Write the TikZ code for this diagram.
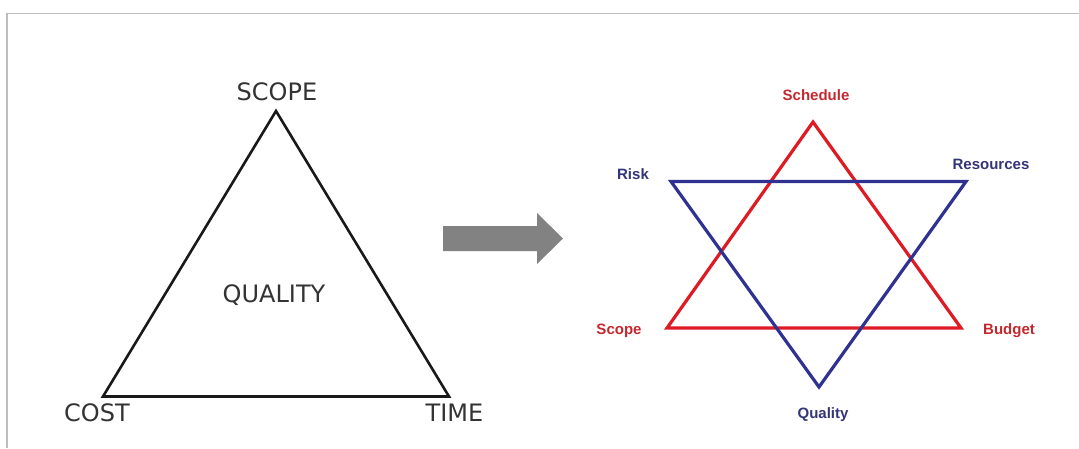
\documentclass[tikz,border=0pt]{standalone}
\usepackage{fontspec}
\usepackage{tikz}
\usetikzlibrary{positioning}
\newfontfamily\trifont{DejaVu Sans}
\newfontfamily\starfont{Liberation Sans}
\definecolor{starred}{RGB}{222,26,34}
\definecolor{starblue}{RGB}{48,50,146}
\definecolor{redtxt}{RGB}{196,40,46}
\definecolor{bluetxt}{RGB}{52,52,120}
\definecolor{framegray}{RGB}{190,190,190}

\begin{document}
\begin{tikzpicture}[x=1pt, y=-1pt,
      tri/.style={draw=black!90, line width=2.6pt, line join=miter},
      tlbl/.style={font=\trifont\fontsize{24}{26}\selectfont, text=black!80, inner sep=0pt},
      redtri/.style={draw=starred, line width=3.2pt, line join=miter},
      bluetri/.style={draw=starblue, line width=3.2pt, line join=miter},
      rlbl/.style={font=\starfont\bfseries\fontsize{15}{17}\selectfont, text=redtxt, inner sep=0pt},
      blbl/.style={font=\starfont\bfseries\fontsize{15}{17}\selectfont, text=bluetxt, inner sep=0pt}]

    \useasboundingbox (0,0) rectangle (1079,448);

    % ============================
    % FRAME (top and left edges only)
    % ============================
    \draw[framegray, line width=1.5pt] (1079,13.5) -- (7,13.5) -- (7,448);

    % ============================
    % LEFT: classic triangle
    % ============================
    \coordinate (tTop)   at (276,111);
    \coordinate (tLeft)  at (103,396.5);
    \coordinate (tRight) at (449,396.5);
    \draw[tri] (tTop) -- (tRight) -- (tLeft) -- cycle;

    \node[tlbl] (scope)   at (277,92)  {SCOPE};
    \node[tlbl] (cost)    at (97,413)  {COST};
    \node[tlbl] (time)    at (454.5,413) {TIME};
    \node[tlbl] (quality) at (274,295) {QUALITY};

    % ============================
    % MIDDLE: block arrow
    % ============================
    \coordinate (arw) at (443,238.5);
    \fill[gray!98] (arw) ++(0,-12.5) -- ++(94,0) -- ++(0,-13) -- (563,238.5)
      -- (537,264) -- (537,251) -- (443,251) -- cycle;

    % ============================
    % RIGHT: six-point star
    % ============================
    \coordinate (sTop)    at (813,122);
    \coordinate (sLeft)   at (667,328);
    \coordinate (sRight)  at (961,328);
    \coordinate (rLeft)   at (671,181.5);
    \coordinate (rRight)  at (966,181.5);
    \coordinate (rBottom) at (819,387);

    \draw[redtri]  (sTop) -- (sRight) -- (sLeft) -- cycle;
    \draw[bluetri] (rLeft) -- (rRight) -- (rBottom) -- cycle;

    \node[rlbl] (schedule)  at (816,95)   {Schedule};
    \node[rlbl] (sscope)    at (619,331)  {Scope};
    \node[rlbl] (budget)    at (1009,331) {Budget};
    \node[blbl] (risk)      at (633,174)  {Risk};
    \node[blbl] (resources) at (991,164)  {Resources};
    \node[blbl] (squality)  at (823,415)  {Quality};

\end{tikzpicture}
\end{document}
